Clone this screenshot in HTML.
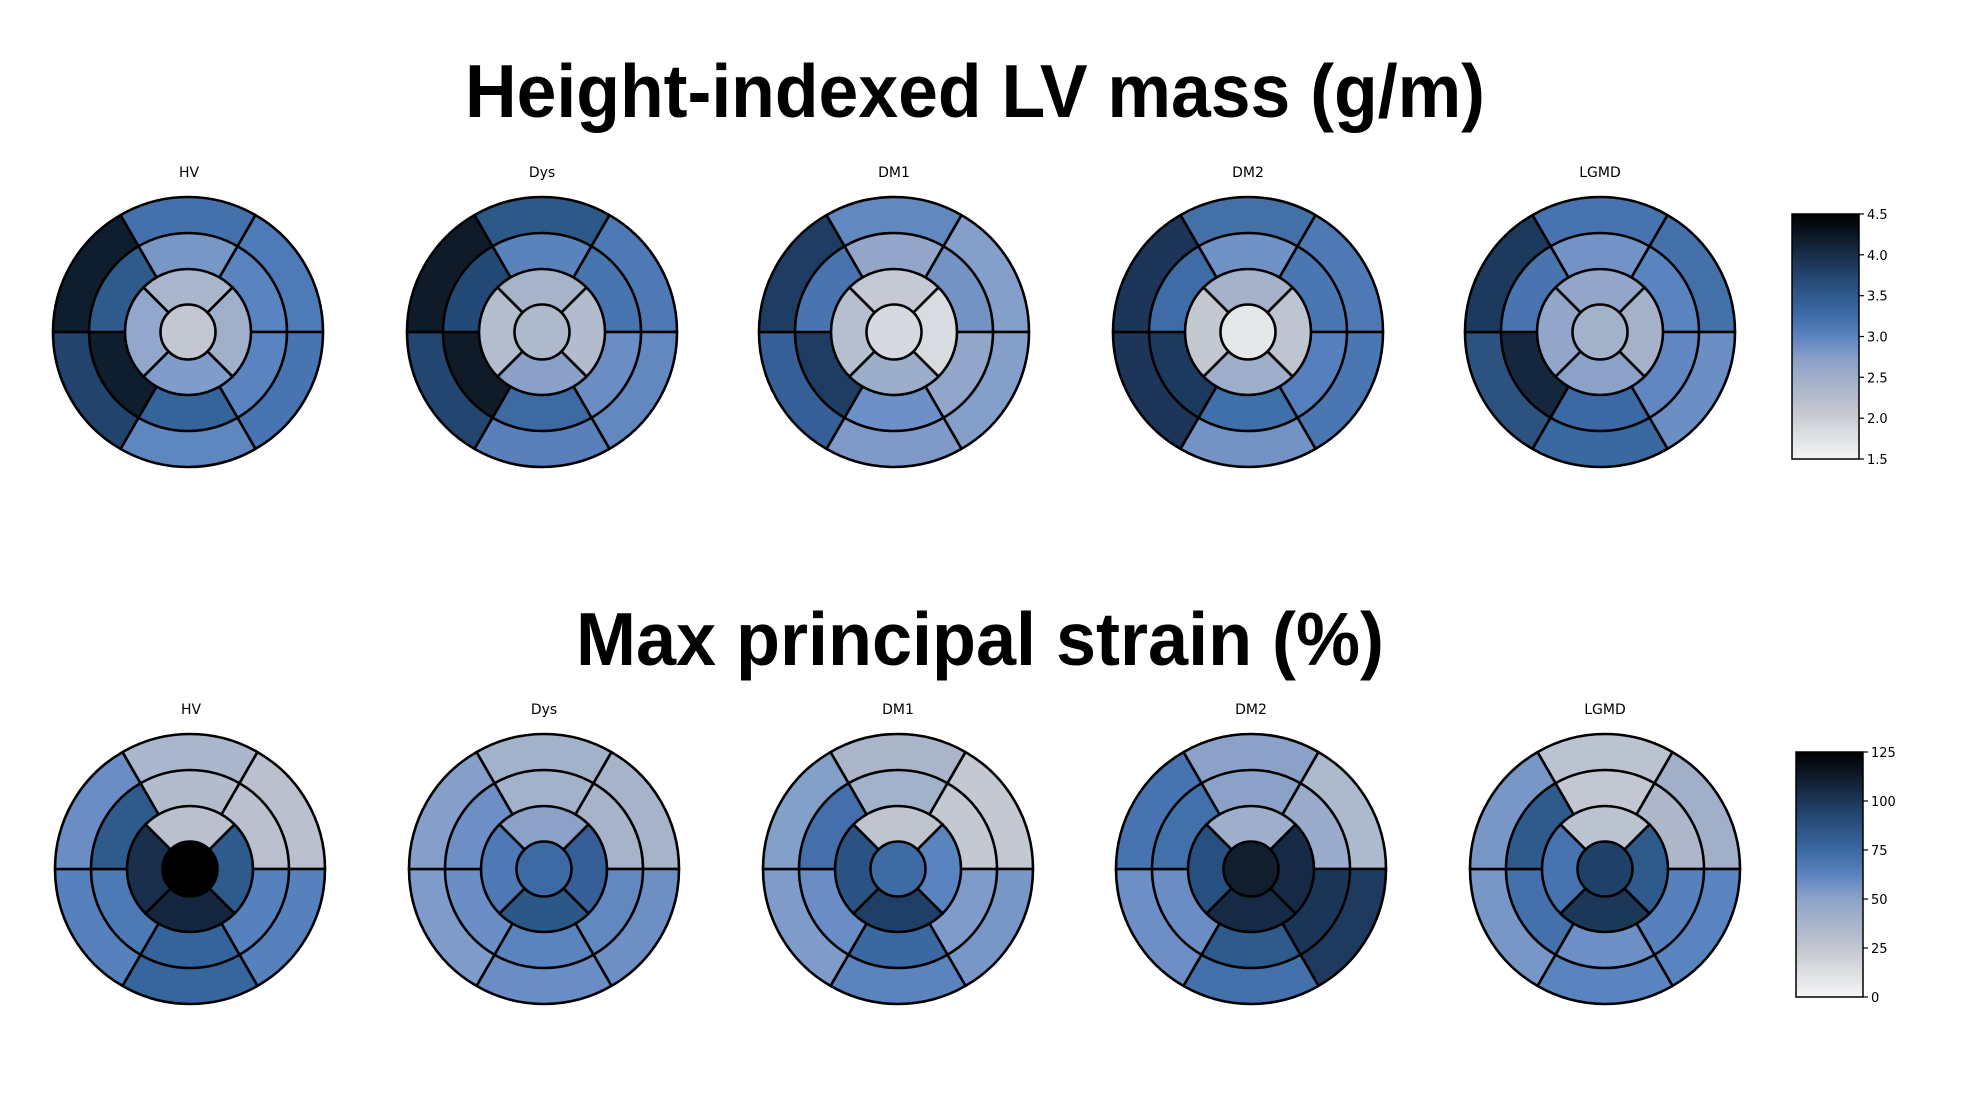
<!DOCTYPE html>
<html><head><meta charset="utf-8"><style>html,body{margin:0;padding:0;background:#fff}svg{display:block}</style></head>
<body>
<svg width="1962" height="1110" viewBox="0 0 1962 1110" xmlns="http://www.w3.org/2000/svg">
<defs>
<linearGradient id="cm" x1="0" y1="1" x2="0" y2="0">
<stop offset="0" stop-color="#f5f5f5"/><stop offset="0.2" stop-color="#c2c6ce"/><stop offset="0.4" stop-color="#8ea2c8"/><stop offset="0.5" stop-color="#5b83bf"/><stop offset="0.6" stop-color="#3a68a2"/><stop offset="0.75" stop-color="#23446e"/><stop offset="0.87" stop-color="#122338"/><stop offset="1" stop-color="#000"/>
</linearGradient>
<path id="o0" d="M0,0 L67.5,-116.91 A135,135 0 0 0 -67.5,-116.91 Z"/>
<path id="o1" d="M0,0 L135,0 A135,135 0 0 0 67.5,-116.91 Z"/>
<path id="o2" d="M0,0 L67.5,116.91 A135,135 0 0 0 135,0 Z"/>
<path id="o3" d="M0,0 L-67.5,116.91 A135,135 0 0 0 67.5,116.91 Z"/>
<path id="o4" d="M0,0 L-135,0 A135,135 0 0 0 -67.5,116.91 Z"/>
<path id="o5" d="M0,0 L-67.5,-116.91 A135,135 0 0 0 -135,0 Z"/>
<path id="m0" d="M0,0 L49.5,-85.74 A99,99 0 0 0 -49.5,-85.74 Z"/>
<path id="m1" d="M0,0 L99,0 A99,99 0 0 0 49.5,-85.74 Z"/>
<path id="m2" d="M0,0 L49.5,85.74 A99,99 0 0 0 99,0 Z"/>
<path id="m3" d="M0,0 L-49.5,85.74 A99,99 0 0 0 49.5,85.74 Z"/>
<path id="m4" d="M0,0 L-99,0 A99,99 0 0 0 -49.5,85.74 Z"/>
<path id="m5" d="M0,0 L-49.5,-85.74 A99,99 0 0 0 -99,0 Z"/>
<path id="i0" d="M0,0 L44.55,-44.55 A63,63 0 0 0 -44.55,-44.55 Z"/>
<path id="i1" d="M0,0 L44.55,44.55 A63,63 0 0 0 44.55,-44.55 Z"/>
<path id="i2" d="M0,0 L-44.55,44.55 A63,63 0 0 0 44.55,44.55 Z"/>
<path id="i3" d="M0,0 L-44.55,-44.55 A63,63 0 0 0 -44.55,44.55 Z"/>
<circle id="c0" cx="0" cy="0" r="27.5"/>
</defs>

<g font-family="'Liberation Sans', Arial, sans-serif" font-weight="bold" font-size="75" text-anchor="middle">
<text x="975" y="117" textLength="1020" lengthAdjust="spacingAndGlyphs">Height-indexed LV mass (g/m)</text>
<text x="980" y="665" textLength="808" lengthAdjust="spacingAndGlyphs">Max principal strain (%)</text>
</g>

<g font-family="'DejaVu Sans', sans-serif" font-size="14" text-anchor="middle">
<text x="189" y="177">HV</text><text x="542" y="177">Dys</text><text x="894" y="177">DM1</text><text x="1248" y="177">DM2</text><text x="1600" y="177">LGMD</text>
<text x="191" y="714">HV</text><text x="544" y="714">Dys</text><text x="898" y="714">DM1</text><text x="1251" y="714">DM2</text><text x="1605" y="714">LGMD</text>
</g>

<g stroke="#000" stroke-width="2.6" stroke-linejoin="round">
<g transform="translate(188,332)">
<use href="#o0" fill="#4470ab"/><use href="#o1" fill="#4f7ab8"/><use href="#o2" fill="#4875b1"/><use href="#o3" fill="#5e86bf"/><use href="#o4" fill="#22446c"/><use href="#o5" fill="#0f1e2e"/>
<use href="#m0" fill="#7897c6"/><use href="#m1" fill="#5a84c0"/><use href="#m2" fill="#5a84c0"/><use href="#m3" fill="#35649a"/><use href="#m4" fill="#0f1e2e"/><use href="#m5" fill="#2e5a8c"/>
<use href="#i0" fill="#aab6cb"/><use href="#i1" fill="#a0afca"/><use href="#i2" fill="#7f9ccb"/><use href="#i3" fill="#93a6cb"/><use href="#c0" fill="#c2c7d1"/>
</g>
<g transform="translate(542,332)">
<use href="#o0" fill="#2c5988"/><use href="#o1" fill="#4f79b5"/><use href="#o2" fill="#6388c0"/><use href="#o3" fill="#5a80bb"/><use href="#o4" fill="#234670"/><use href="#o5" fill="#0f1b28"/>
<use href="#m0" fill="#5a82bd"/><use href="#m1" fill="#4874b0"/><use href="#m2" fill="#6a8dc4"/><use href="#m3" fill="#3d6aa2"/><use href="#m4" fill="#0f1b28"/><use href="#m5" fill="#234a76"/>
<use href="#i0" fill="#a7b3c9"/><use href="#i1" fill="#b3bcce"/><use href="#i2" fill="#8ba0c8"/><use href="#i3" fill="#b3bdcd"/><use href="#c0" fill="#aeb9cc"/>
</g>
<g transform="translate(894,332)">
<use href="#o0" fill="#6288c0"/><use href="#o1" fill="#859fcb"/><use href="#o2" fill="#859fcb"/><use href="#o3" fill="#7f9ac8"/><use href="#o4" fill="#355f96"/><use href="#o5" fill="#1f3d63"/>
<use href="#m0" fill="#93a6c9"/><use href="#m1" fill="#7493c5"/><use href="#m2" fill="#92a6c9"/><use href="#m3" fill="#6d90c8"/><use href="#m4" fill="#1f3d63"/><use href="#m5" fill="#4a74b0"/>
<use href="#i0" fill="#c4c9d3"/><use href="#i1" fill="#d8dbe0"/><use href="#i2" fill="#9daecb"/><use href="#i3" fill="#b6bfcf"/><use href="#c0" fill="#d6d9df"/>
</g>
<g transform="translate(1248,332)">
<use href="#o0" fill="#4470a8"/><use href="#o1" fill="#4f79b4"/><use href="#o2" fill="#4a76b2"/><use href="#o3" fill="#7393c5"/><use href="#o4" fill="#1c3558"/><use href="#o5" fill="#1c3558"/>
<use href="#m0" fill="#7092c6"/><use href="#m1" fill="#4a76b2"/><use href="#m2" fill="#5580bd"/><use href="#m3" fill="#4070aa"/><use href="#m4" fill="#1c3a5e"/><use href="#m5" fill="#3f6ca7"/>
<use href="#i0" fill="#a6b2c9"/><use href="#i1" fill="#bec4d0"/><use href="#i2" fill="#9fafcb"/><use href="#i3" fill="#c4c8d0"/><use href="#c0" fill="#e6e7e9"/>
</g>
<g transform="translate(1600,332)">
<use href="#o0" fill="#4774b0"/><use href="#o1" fill="#4571ab"/><use href="#o2" fill="#6b8ec5"/><use href="#o3" fill="#3a68a0"/><use href="#o4" fill="#2c5280"/><use href="#o5" fill="#1c3a5d"/>
<use href="#m0" fill="#7393c6"/><use href="#m1" fill="#5a84c0"/><use href="#m2" fill="#6186c2"/><use href="#m3" fill="#3c69a3"/><use href="#m4" fill="#14273f"/><use href="#m5" fill="#4a74b0"/>
<use href="#i0" fill="#93a6c9"/><use href="#i1" fill="#a5b2c8"/><use href="#i2" fill="#8ca1c8"/><use href="#i3" fill="#93a6c9"/><use href="#c0" fill="#a3b1c9"/>
</g>
<g transform="translate(190,869)">
<use href="#o0" fill="#a9b6cb"/><use href="#o1" fill="#bac0cd"/><use href="#o2" fill="#5681bd"/><use href="#o3" fill="#37659d"/><use href="#o4" fill="#5681bd"/><use href="#o5" fill="#6a8dc5"/>
<use href="#m0" fill="#b2bccc"/><use href="#m1" fill="#bac0cd"/><use href="#m2" fill="#5681bd"/><use href="#m3" fill="#35649d"/><use href="#m4" fill="#4d79b4"/><use href="#m5" fill="#2e5a8c"/>
<use href="#i0" fill="#bac0cd"/><use href="#i1" fill="#2e5a8c"/><use href="#i2" fill="#14273f"/><use href="#i3" fill="#1a2f4b"/><use href="#c0" fill="#000000"/>
</g>
<g transform="translate(544,869)">
<use href="#o0" fill="#a3b2cb"/><use href="#o1" fill="#a6b3c9"/><use href="#o2" fill="#6d8fc4"/><use href="#o3" fill="#6b8dc5"/><use href="#o4" fill="#7f9bca"/><use href="#o5" fill="#859fca"/>
<use href="#m0" fill="#a3b2cb"/><use href="#m1" fill="#a6b3c9"/><use href="#m2" fill="#6288c0"/><use href="#m3" fill="#5b84bf"/><use href="#m4" fill="#6c8ec6"/><use href="#m5" fill="#6d8fc6"/>
<use href="#i0" fill="#8ba1c8"/><use href="#i1" fill="#355f96"/><use href="#i2" fill="#2c5888"/><use href="#i3" fill="#4f79b5"/><use href="#c0" fill="#3d6aa4"/>
</g>
<g transform="translate(898,869)">
<use href="#o0" fill="#aab5c9"/><use href="#o1" fill="#c4c8d1"/><use href="#o2" fill="#7896c6"/><use href="#o3" fill="#5b83be"/><use href="#o4" fill="#7f9bc9"/><use href="#o5" fill="#83a0c9"/>
<use href="#m0" fill="#a3b2cb"/><use href="#m1" fill="#c4c8d1"/><use href="#m2" fill="#7f9bca"/><use href="#m3" fill="#3c68a2"/><use href="#m4" fill="#6a8dc5"/><use href="#m5" fill="#456fab"/>
<use href="#i0" fill="#c0c4cf"/><use href="#i1" fill="#5a84c0"/><use href="#i2" fill="#1f3f66"/><use href="#i3" fill="#2a5282"/><use href="#c0" fill="#3f6ba5"/>
</g>
<g transform="translate(1251,869)">
<use href="#o0" fill="#8ca1c8"/><use href="#o1" fill="#adb9cc"/><use href="#o2" fill="#1e3a5f"/><use href="#o3" fill="#4470ab"/><use href="#o4" fill="#6d8fc6"/><use href="#o5" fill="#4774b0"/>
<use href="#m0" fill="#8ca1c8"/><use href="#m1" fill="#9aabcc"/><use href="#m2" fill="#1a3555"/><use href="#m3" fill="#2e5a8c"/><use href="#m4" fill="#6a8dc5"/><use href="#m5" fill="#4270ab"/>
<use href="#i0" fill="#9fafcb"/><use href="#i1" fill="#162a45"/><use href="#i2" fill="#162a45"/><use href="#i3" fill="#275081"/><use href="#c0" fill="#101e2d"/>
</g>
<g transform="translate(1605,869)">
<use href="#o0" fill="#bcc3d0"/><use href="#o1" fill="#a1afc8"/><use href="#o2" fill="#5a84c0"/><use href="#o3" fill="#5a84c0"/><use href="#o4" fill="#7896c6"/><use href="#o5" fill="#7896c6"/>
<use href="#m0" fill="#c2c7d1"/><use href="#m1" fill="#adb7c9"/><use href="#m2" fill="#5681bd"/><use href="#m3" fill="#6d8fc6"/><use href="#m4" fill="#4470ab"/><use href="#m5" fill="#2e5a8c"/>
<use href="#i0" fill="#bcc3d0"/><use href="#i1" fill="#2e5a8c"/><use href="#i2" fill="#1c3858"/><use href="#i3" fill="#4774b0"/><use href="#c0" fill="#1f4168"/>
</g>
</g>

<rect x="1792" y="214" width="67" height="245" fill="url(#cm)" stroke="#000" stroke-width="1.5"/>
<g stroke="#000" stroke-width="1.2">
<line x1="1859" y1="214" x2="1864" y2="214"/><line x1="1859" y1="254.8" x2="1864" y2="254.8"/><line x1="1859" y1="295.7" x2="1864" y2="295.7"/><line x1="1859" y1="336.5" x2="1864" y2="336.5"/><line x1="1859" y1="377.3" x2="1864" y2="377.3"/><line x1="1859" y1="418.2" x2="1864" y2="418.2"/><line x1="1859" y1="459" x2="1864" y2="459"/>
</g>
<g font-family="'DejaVu Sans', sans-serif" font-size="13">
<text x="1867" y="219">4.5</text><text x="1867" y="259.8">4.0</text><text x="1867" y="300.7">3.5</text><text x="1867" y="341.5">3.0</text><text x="1867" y="382.3">2.5</text><text x="1867" y="423.2">2.0</text><text x="1867" y="464">1.5</text>
</g>

<rect x="1796" y="752" width="67" height="245" fill="url(#cm)" stroke="#000" stroke-width="1.5"/>
<g stroke="#000" stroke-width="1.2">
<line x1="1863" y1="752" x2="1868" y2="752"/><line x1="1863" y1="801" x2="1868" y2="801"/><line x1="1863" y1="850" x2="1868" y2="850"/><line x1="1863" y1="899" x2="1868" y2="899"/><line x1="1863" y1="948" x2="1868" y2="948"/><line x1="1863" y1="997" x2="1868" y2="997"/>
</g>
<g font-family="'DejaVu Sans', sans-serif" font-size="13">
<text x="1871" y="757">125</text><text x="1871" y="806">100</text><text x="1871" y="855">75</text><text x="1871" y="904">50</text><text x="1871" y="953">25</text><text x="1871" y="1002">0</text>
</g>
</svg>
</body></html>
